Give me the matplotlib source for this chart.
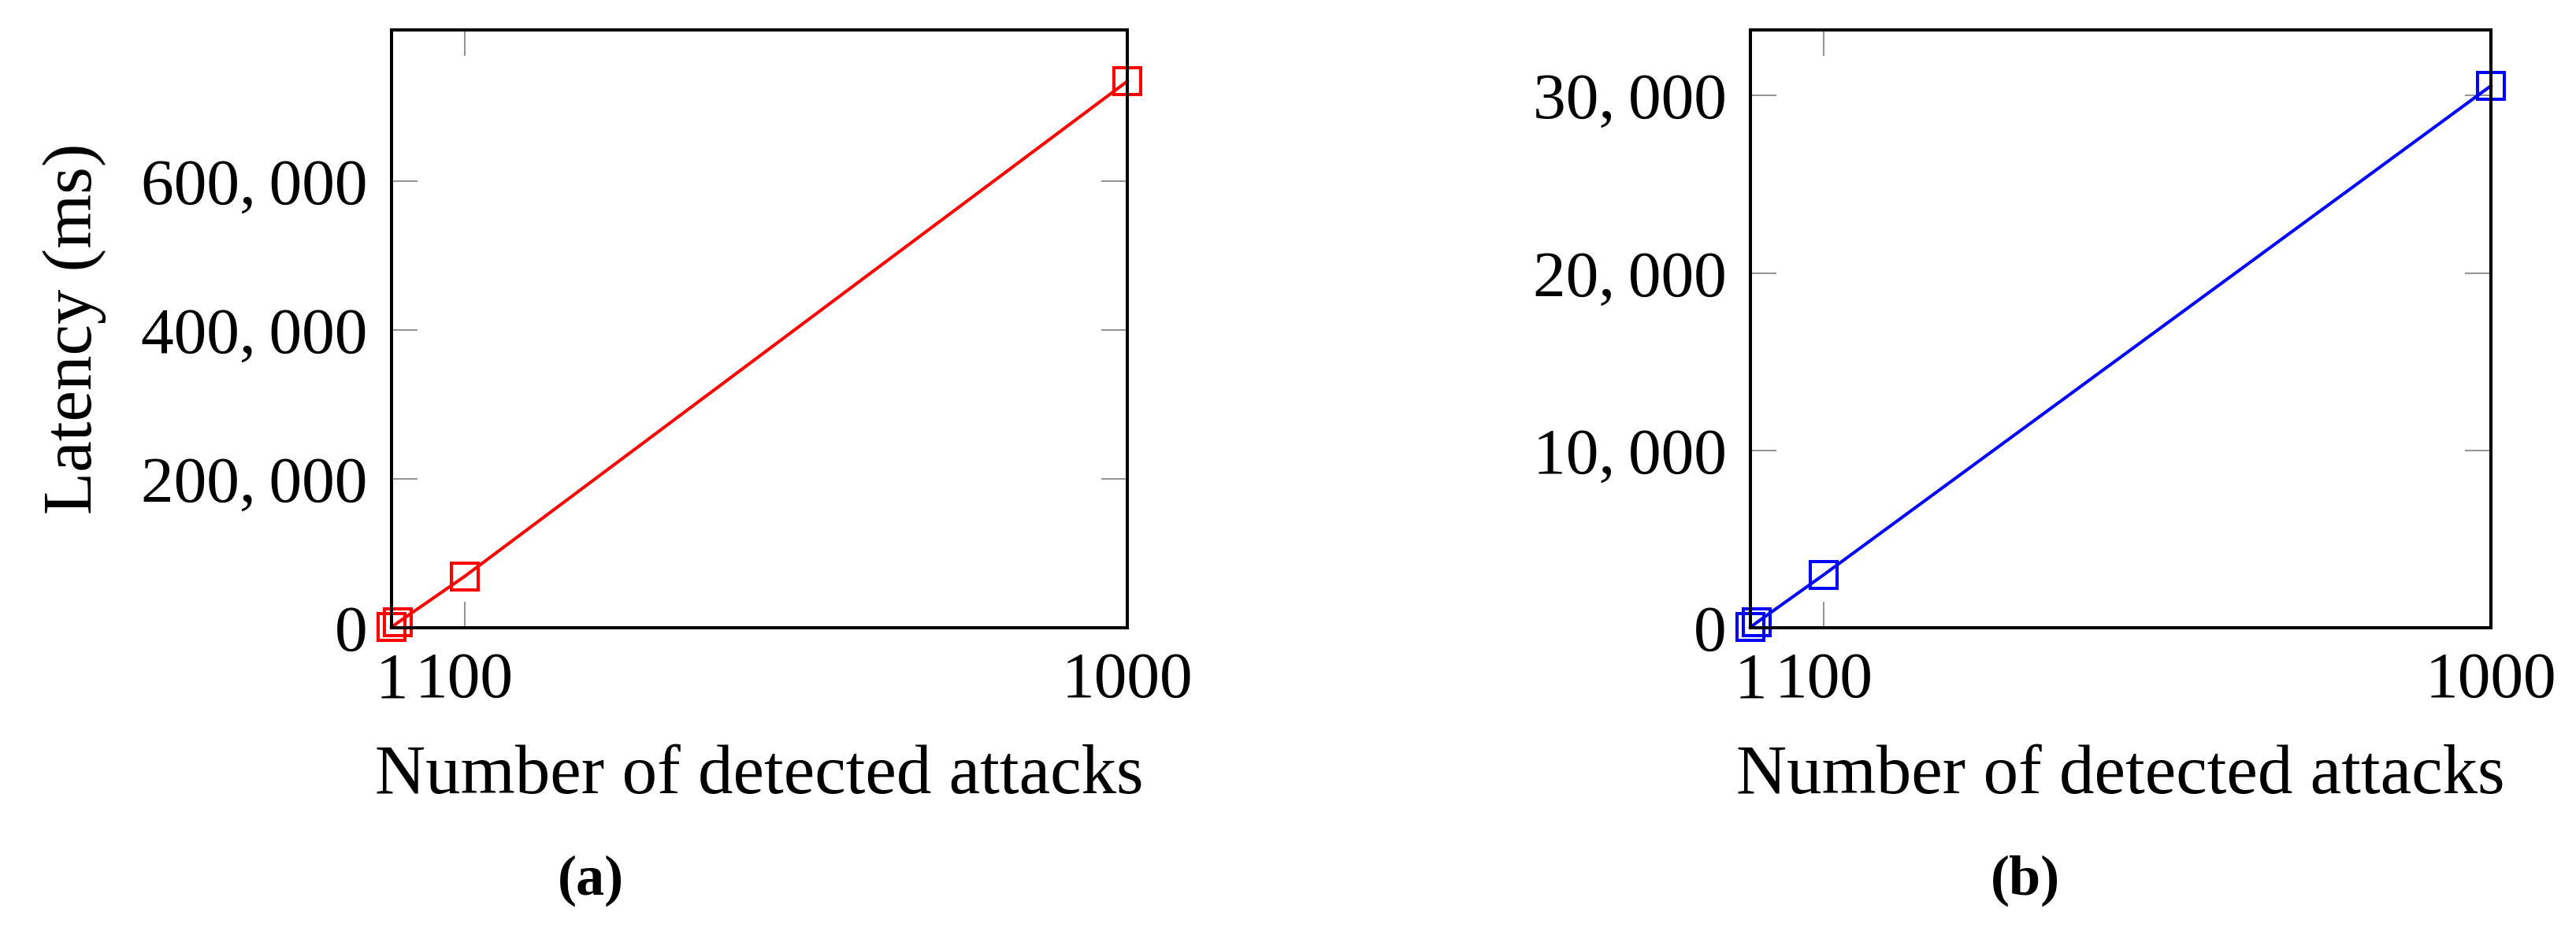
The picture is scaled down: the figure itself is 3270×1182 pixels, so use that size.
import numpy as np
import matplotlib
matplotlib.use("Agg")
import matplotlib.pyplot as plt
from matplotlib.ticker import FixedLocator

plt.rcParams['font.family'] = ['Liberation Serif', 'DejaVu Serif']

# data
attacks = [1, 10, 100, 1000]
latency_a = [700, 7300, 68800, 734000]
latency_b = [30, 310, 2990, 30550]

yticks_a = [0, 200000, 400000, 600000]
yticks_b = [0, 10000, 20000, 30000]
xticks = [1, 100, 1000]


def fmt(v):
    if v == 0:
        return "0"
    s = f"{v:,}"
    return s.replace(",", ",\u2009")


fig = plt.figure(figsize=(32.7, 11.82), dpi=100)

ax1 = fig.add_axes([497 / 3270, 1 - 797 / 1182, 934 / 3270, 759 / 1182])
ax2 = fig.add_axes([2222 / 3270, 1 - 797 / 1182, 940 / 3270, 759 / 1182])

for ax, y, col, yt, ymax in [(ax1, latency_a, '#ff0000', yticks_a, 803000),
                             (ax2, latency_b, '#0000ff', yticks_b, 33700)]:
    ax.plot(attacks, y, color=col, lw=2.9, marker='s', ms=24, mew=2.9,
            mfc='none', mec=col, clip_on=False, zorder=5)
    ax.set_xlim(1, 1000)
    ax.set_ylim(0, ymax)
    ax.xaxis.set_major_locator(FixedLocator(xticks))
    ax.set_xticklabels([str(t) for t in xticks])
    ax.yaxis.set_major_locator(FixedLocator(yt))
    ax.set_yticklabels([fmt(t) for t in yt])
    ax.tick_params(direction='in', top=True, right=True, length=24, width=1.2,
                   color='#808080', labelsize=60)
    ax.tick_params(axis='y', pad=22)
    ax.tick_params(axis='x', pad=22)
    for s in ax.spines.values():
        s.set_linewidth(2.9)
        s.set_zorder(6)
    ax.set_xlabel("Number of detected attacks", fontsize=64, labelpad=30)

ax1.set_ylabel("Latency (ms)", fontsize=64, labelpad=32)

fig.text(750 / 3270, 1 - 1118 / 1182, "(a)", fontsize=52, fontweight='bold',
         ha='center', va='center')
fig.text(2571 / 3270, 1 - 1118 / 1182, "(b)", fontsize=52, fontweight='bold',
         ha='center', va='center')

fig.savefig("out.png", dpi=100)
